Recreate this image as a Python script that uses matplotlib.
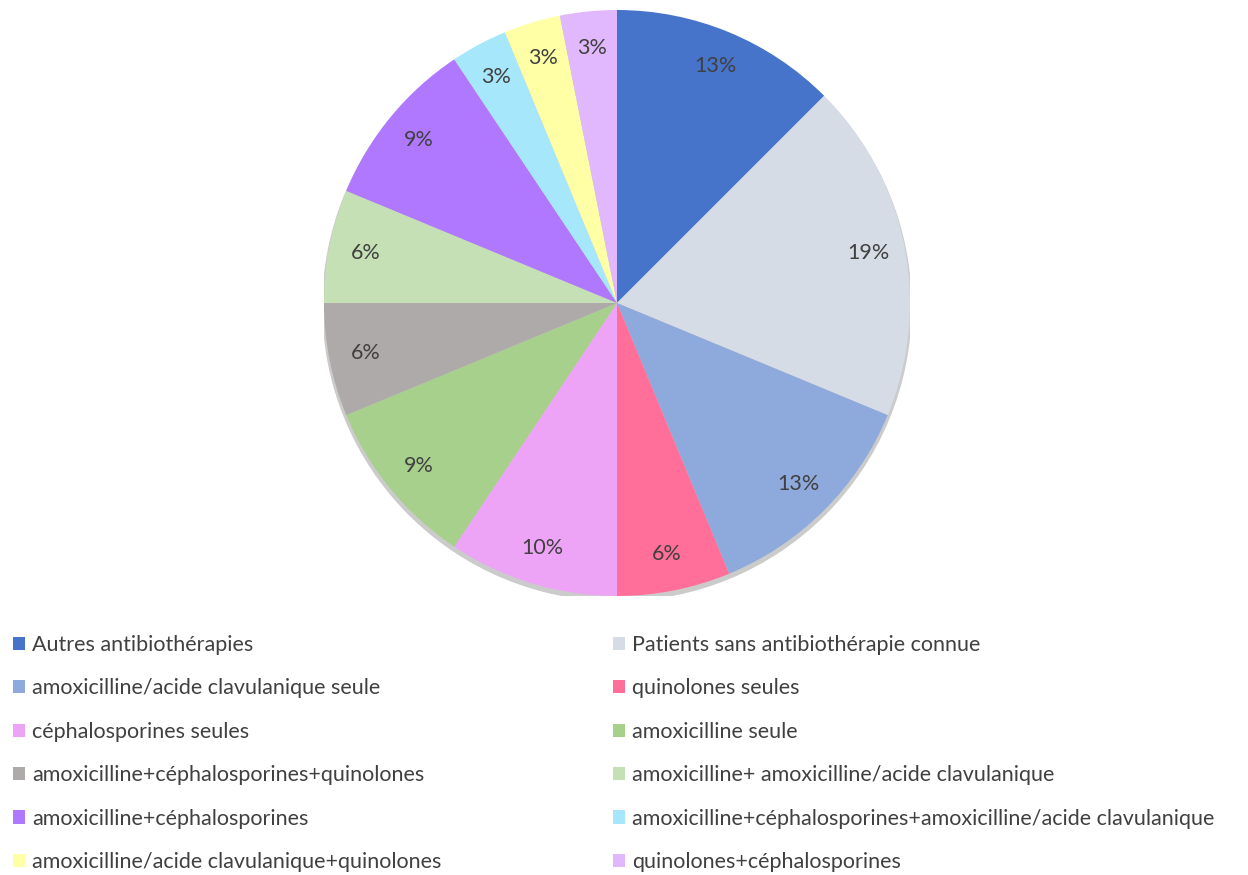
import matplotlib.pyplot as plt
from matplotlib.patches import Circle, Patch

plt.rcParams['font.family'] = ['Lato', 'DejaVu Sans']

# patient counts per antibiotherapy group (32 patients)
categories = ['Autres antibiothérapies',
              'Patients sans antibiothérapie connue',
              'amoxicilline/acide clavulanique seule',
              'quinolones seules',
              'céphalosporines seules',
              'amoxicilline seule',
              'amoxicilline+céphalosporines+quinolones',
              'amoxicilline+ amoxicilline/acide clavulanique',
              'amoxicilline+céphalosporines',
              'amoxicilline+céphalosporines+amoxicilline/acide clavulanique',
              'amoxicilline/acide clavulanique+quinolones',
              'quinolones+céphalosporines']
counts = [4, 6, 4, 2, 3, 3, 2, 2, 3, 1, 1, 1]
pct_labels = ['13%', '19%', '13%', '6%', '10%', '9%', '6%', '6%', '9%', '3%', '3%', '3%']
colours = ['#4674cb', '#d6dce5', '#8eaadc', '#ff6f9a', '#eea4f6', '#a8d08d',
           '#aeaaaa', '#c5e0b4', '#af78fe', '#a6e7fb', '#ffffa6', '#e1b8fe']

fig = plt.figure(figsize=(12.48, 8.75), dpi=100)
# pie centre at (617, 303) px, radius 293 px
ax = fig.add_axes([324/1248, 279/875, 586/1248, 586/875])

# soft shadow under the pie
ax.add_patch(Circle((0.0, -0.012), 1.006, color='#8c8c8c', alpha=0.45, zorder=0, lw=0))

wedges, texts, autotexts = ax.pie(counts, colors=colours, startangle=90,
                                  counterclock=False, autopct='%1.0f%%',
                                  pctdistance=0.875, radius=1.0,
                                  wedgeprops={'linewidth': 0, 'zorder': 1},
                                  textprops={'fontsize': 15.5, 'color': '#404040'})
for txt, lab in zip(autotexts, pct_labels):
    txt.set_text(lab)
ax.set_xlim(-1, 1)
ax.set_ylim(-1, 1)
ax.set_aspect('equal')

# legend in two columns, filled row by row
handles = [Patch(facecolor=c, edgecolor='none') for c in colours]
for col, x0 in enumerate([2/1248, 602/1248]):
    leg = fig.legend(handles[col::2], categories[col::2], loc='upper left',
                     bbox_to_anchor=(x0, 1 - 624/875), frameon=False,
                     handlelength=0.56, handleheight=0.56, handletextpad=0.35,
                     labelspacing=1.09, borderpad=0, fontsize=15.5,
                     labelcolor='#404040')

fig.savefig('out.png', dpi=100, facecolor='white')
